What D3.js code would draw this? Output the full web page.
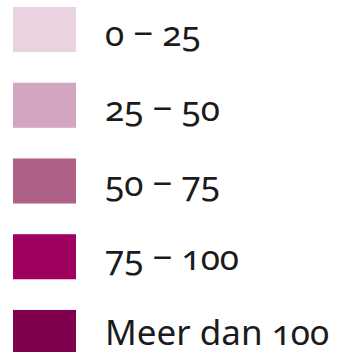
<!DOCTYPE html>
<html>
<head>
<meta charset="utf-8">
<script src="https://cdn.jsdelivr.net/npm/d3@7"></script>
<style>
  html, body { margin: 0; padding: 0; background: #fff; }
  svg { display: block; }
  .lbl { font-family: "Noto Sans", sans-serif; font-variant-numeric: oldstyle-nums; font-feature-settings: "onum" 1; }
</style>
</head>
<body>
<svg id="chart" width="339" height="352"></svg>
<script>
// Legend classes and their fill colours
const classes = ["0 − 25", "25 − 50", "50 − 75", "75 − 100", "Meer dan 100"];
const colors = ["#e9d3e1", "#d4a5c1", "#b06188", "#a0005f", "#80004f"];

const svg = d3.select("#chart");

// five rows, 45px swatches on a ~76px step
const y = d3.scaleBand()
  .domain(classes)
  .range([7, 355])
  .paddingInner(0.405)
  .paddingOuter(0);

// label baselines
const yText = d3.scalePoint()
  .domain(classes)
  .range([46, 345]);

const color = d3.scaleOrdinal().domain(classes).range(colors);

svg.selectAll("rect.swatch")
  .data(classes)
  .join("rect")
  .attr("class", "swatch")
  .attr("x", 13)
  .attr("y", d => y(d))
  .attr("width", 63)
  .attr("height", y.bandwidth())
  .attr("fill", d => color(d));

svg.selectAll("text.lbl")
  .data(classes)
  .join("text")
  .attr("class", "lbl")
  .attr("x", 105)
  .attr("y", d => yText(d))
  .attr("font-size", 35)
  .attr("fill", "#1b1b1b")
  .text(d => d);
</script>
</body>
</html>
